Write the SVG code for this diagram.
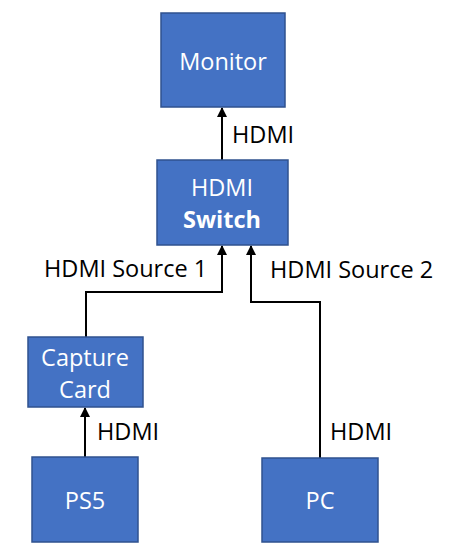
<svg xmlns="http://www.w3.org/2000/svg" width="461" height="557" viewBox="0 0 461 557">
<style>
.box{fill:#4472C4;stroke:#2F528F;stroke-width:1.5}
.t{font-family:"Open Sans","Liberation Sans",sans-serif;font-size:23.5px;fill:#fff;text-anchor:middle}
.b{font-weight:bold}
.l{font-family:"Open Sans","Liberation Sans",sans-serif;font-size:23.5px;fill:#000}
.c{fill:none;stroke:#000;stroke-width:2}
</style>
<defs>
<marker id="ah" viewBox="0 0 10 10" refX="9" refY="5" markerWidth="5" markerHeight="5" orient="auto" markerUnits="strokeWidth">
<path d="M0,0 L10,5 L0,10 z" fill="#000"/>
</marker>
</defs>
<g id="connectors">
<path class="c" d="M222,160 V108" marker-end="url(#ah)"/>
<path class="c" d="M86,337 V292 H222 V246" marker-end="url(#ah)"/>
<path class="c" d="M320,458 V302 H251 V246" marker-end="url(#ah)"/>
<path class="c" d="M85,457 V408" marker-end="url(#ah)"/>
<text class="l" x="232" y="143">HDMI</text>
<text class="l" x="44" y="277">HDMI Source 1</text>
<text class="l" x="270" y="278">HDMI Source 2</text>
<text class="l" x="97" y="440">HDMI</text>
<text class="l" x="330" y="440">HDMI</text>
</g>
<g id="monitor">
<rect class="box" x="161" y="13" width="124" height="94"/>
<text class="t" x="223" y="70">Monitor</text>
</g>
<g id="switch">
<rect class="box" x="157" y="160" width="131" height="85"/>
<text class="t" x="222" y="196">HDMI</text>
<text class="t b" x="222" y="228">Switch</text>
</g>
<g id="capture">
<rect class="box" x="28" y="337" width="115" height="70"/>
<text class="t" x="85" y="366">Capture</text>
<text class="t" x="85" y="398">Card</text>
</g>
<g id="ps5">
<rect class="box" x="32" y="457" width="106" height="85"/>
<text class="t" x="85" y="509">PS5</text>
</g>
<g id="pc">
<rect class="box" x="262" y="458" width="116" height="84"/>
<text class="t" x="320" y="509">PC</text>
</g>
</svg>
